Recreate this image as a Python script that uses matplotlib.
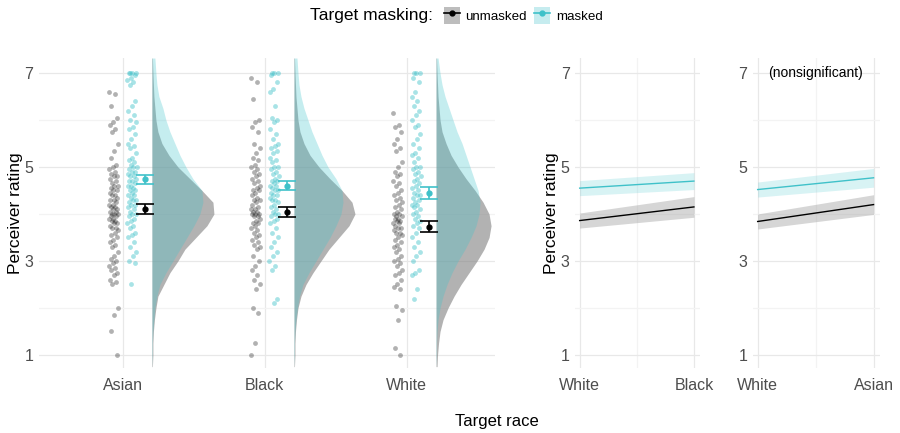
import numpy as np
import matplotlib
matplotlib.use("Agg")
import matplotlib.pyplot as plt
from matplotlib.patches import Patch
from matplotlib.lines import Line2D

plt.rcParams['font.family'] = ['Liberation Sans', 'DejaVu Sans']

# ---- data ----
races = ["Asian", "Black", "White"]

# participant-level ratings (jittered points)
asian_unmasked = [6.6, 6.55, 6.3, 6.05, 5.95, 5.9, 5.8, 5.75, 5.5, 5.35, 5.2, 5.05, 5.0, 4.95, 4.9,
                  4.85, 4.8, 4.8, 4.75, 4.7, 4.65, 4.6, 4.6, 4.55, 4.5, 4.5, 4.45, 4.4, 4.4, 4.35,
                  4.3, 4.3, 4.25, 4.2, 4.2, 4.15, 4.15, 4.1, 4.1, 4.05, 4.05, 4.0, 4.0, 4.0, 3.95,
                  3.95, 3.9, 3.9, 3.85, 3.85, 3.8, 3.8, 3.75, 3.7, 3.7, 3.65, 3.6, 3.55, 3.5, 3.45,
                  3.4, 3.35, 3.3, 3.2, 3.1, 3.05, 3.0, 2.95, 2.9, 2.85, 2.8, 2.75, 2.7, 2.6, 2.55,
                  2.5, 2.0, 1.85, 1.5, 1.0]
asian_masked = [7, 7, 7, 7, 6.95, 6.9, 6.85, 6.8, 6.75, 6.4, 6.3, 6.2, 6.1, 6.0, 5.95, 5.85, 5.8,
                5.7, 5.6, 5.5, 5.45, 5.4, 5.3, 5.2, 5.15, 5.1, 5.05, 5.0, 5.0, 4.95, 4.9, 4.9,
                4.85, 4.8, 4.8, 4.75, 4.7, 4.7, 4.65, 4.6, 4.6, 4.55, 4.5, 4.5, 4.45, 4.4, 4.4,
                4.35, 4.3, 4.3, 4.25, 4.2, 4.2, 4.15, 4.1, 4.05, 4.0, 4.0, 3.95, 3.9, 3.85, 3.8,
                3.75, 3.7, 3.6, 3.55, 3.5, 3.4, 3.3, 3.2, 3.1, 3.0, 2.95, 2.5]
black_unmasked = [6.9, 6.8, 6.45, 6.0, 5.95, 5.85, 5.75, 5.5, 5.4, 5.3, 5.2, 5.15, 5.05, 5.0, 4.95,
                  4.9, 4.85, 4.8, 4.75, 4.7, 4.65, 4.6, 4.55, 4.5, 4.5, 4.45, 4.4, 4.35, 4.3, 4.3,
                  4.25, 4.2, 4.15, 4.1, 4.1, 4.05, 4.05, 4.0, 4.0, 4.0, 3.95, 3.95, 3.9, 3.85, 3.8,
                  3.8, 3.75, 3.7, 3.65, 3.6, 3.55, 3.5, 3.45, 3.4, 3.35, 3.3, 3.25, 3.1, 3.0, 2.9,
                  2.8, 2.7, 2.6, 2.5, 2.4, 2.0, 1.9, 1.25, 1.0]
black_masked = [7, 7, 7, 6.95, 6.8, 6.65, 6.6, 6.3, 6.05, 6.0, 5.95, 5.8, 5.7, 5.6, 5.5, 5.45, 5.4,
                5.35, 5.3, 5.2, 5.15, 5.1, 5.0, 5.0, 4.95, 4.9, 4.85, 4.8, 4.75, 4.7, 4.7, 4.65,
                4.6, 4.6, 4.55, 4.5, 4.5, 4.45, 4.4, 4.4, 4.35, 4.3, 4.3, 4.25, 4.2, 4.15, 4.1,
                4.05, 4.0, 4.0, 3.95, 3.9, 3.85, 3.8, 3.7, 3.6, 3.5, 3.4, 3.3, 3.2, 3.1, 3.0, 2.9,
                2.8, 2.2, 2.1]
white_unmasked = [6.15, 5.9, 5.85, 5.75, 5.6, 5.5, 5.4, 5.35, 5.1, 5.0, 4.9, 4.85, 4.8, 4.7, 4.65,
                  4.6, 4.5, 4.45, 4.4, 4.35, 4.3, 4.25, 4.2, 4.15, 4.1, 4.05, 4.0, 4.0, 3.95, 3.95,
                  3.9, 3.9, 3.85, 3.85, 3.8, 3.8, 3.75, 3.7, 3.7, 3.65, 3.6, 3.6, 3.55, 3.5, 3.45,
                  3.4, 3.35, 3.3, 3.25, 3.2, 3.1, 3.05, 3.0, 2.95, 2.9, 2.8, 2.75, 2.7, 2.6, 2.5,
                  2.45, 2.4, 2.05, 1.95, 1.75, 1.15, 1.0]
white_masked = [7, 7, 7, 6.9, 6.8, 6.6, 6.5, 6.4, 6.3, 6.2, 6.1, 6.0, 5.9, 5.85, 5.7, 5.6, 5.5,
                5.4, 5.3, 5.25, 5.2, 5.1, 5.0, 5.0, 4.95, 4.9, 4.85, 4.8, 4.75, 4.7, 4.65, 4.6,
                4.55, 4.5, 4.45, 4.4, 4.4, 4.35, 4.3, 4.25, 4.2, 4.2, 4.15, 4.1, 4.05, 4.0, 3.95,
                3.9, 3.85, 3.8, 3.75, 3.7, 3.6, 3.5, 3.4, 3.3, 3.2, 3.1, 3.0, 2.8, 2.75, 2.7, 2.4,
                2.2]

# half-violin density profiles (relative density at each rating level)
dens_levels = [0.75, 1.0, 1.25, 1.5, 1.75, 2.0, 2.25, 2.5, 2.75, 3.0, 3.25, 3.5, 3.75, 4.0,
               4.25, 4.5, 4.75, 5.0, 5.25, 5.5, 5.75, 6.0, 6.25, 6.5, 6.75, 7.0, 7.32]
asian_unmasked_dens = [0.5, 1, 1, 1.5, 2.5, 4, 6, 12, 18, 26, 33, 44, 55, 62,
                       61, 50, 38, 26, 17, 10, 6, 4, 3, 2, 1.5, 1, 0.5]
asian_masked_dens = [0, 0.5, 0.5, 1, 2, 3, 5, 8, 14, 21, 28, 35, 42, 48,
                     51, 50, 41, 34, 28, 23, 18, 14, 11, 7, 5, 4, 3]
black_unmasked_dens = [0.5, 1, 1, 1.5, 2.5, 4, 7, 12, 19, 27, 35, 45, 55, 61,
                       58, 48, 36, 25, 16, 10, 6, 4, 3, 2, 1.5, 1, 0.5]
black_masked_dens = [0, 0.5, 0.5, 1, 2, 3.5, 5.5, 9, 15, 22, 29, 36, 42, 47,
                     49, 48, 42, 34, 28, 23, 18, 14, 10, 7, 5, 4, 3]
white_unmasked_dens = [1, 1.5, 2.5, 4, 7, 12, 18, 25, 33, 41, 48, 53, 55, 53,
                       47, 39, 30, 22, 15, 10, 6, 4, 3, 2, 1.5, 1, 0.5]
white_masked_dens = [0, 0.5, 0.5, 1, 2, 4, 7, 11, 16, 22, 29, 35, 40, 43,
                     44, 42, 38, 34, 30, 26, 21, 17, 13, 9, 6, 4, 2]

# means and standard errors (error bars)
mean_unmasked = [4.11, 4.04, 3.73]
se_unmasked = [0.10, 0.10, 0.12]
mean_masked = [4.74, 4.60, 4.45]
se_masked = [0.10, 0.10, 0.13]

# model-predicted lines (contrast panels): value at left / right level
wb_labels = ["White", "Black"]
wb_unmasked = [3.86, 4.15]
wb_unmasked_lo = [3.70, 3.93]
wb_unmasked_hi = [4.02, 4.37]
wb_masked = [4.55, 4.70]
wb_masked_lo = [4.39, 4.52]
wb_masked_hi = [4.71, 4.88]

wa_labels = ["White", "Asian"]
wa_unmasked = [3.84, 4.20]
wa_unmasked_lo = [3.68, 3.99]
wa_unmasked_hi = [4.00, 4.41]
wa_masked = [4.52, 4.77]
wa_masked_lo = [4.36, 4.57]
wa_masked_hi = [4.68, 4.97]

# ---- style ----
GREY_PT = "#222222"
CYAN = "#3fc1c9"
GRID_MAJ = "#e8e8e8"
GRID_MIN = "#f3f3f3"
TICK_C = "#4d4d4d"
YLIM = (0.72, 7.32)


def style_axis(ax):
    for s in ax.spines.values():
        s.set_visible(False)
    ax.tick_params(length=0, labelsize=11.5, labelcolor=TICK_C, pad=4)
    ax.set_ylim(*YLIM)
    ax.set_yticks([1, 3, 5, 7])
    ax.set_yticks([2, 4, 6], minor=True)
    ax.tick_params(which="minor", length=0)
    ax.grid(True, which="major", color=GRID_MAJ, lw=0.9)
    ax.grid(True, which="minor", axis="y", color=GRID_MIN, lw=0.9)
    ax.set_axisbelow(True)


fig = plt.figure(figsize=(9, 4.33), dpi=100)
ax1 = fig.add_axes([0.0433, 0.150, 0.5067, 0.716])
ax2 = fig.add_axes([0.639, 0.150, 0.139, 0.716])
ax3 = fig.add_axes([0.8367, 0.150, 0.141, 0.716])

# ---- raincloud panel ----
unmasked_sets = [asian_unmasked, black_unmasked, white_unmasked]
masked_sets = [asian_masked, black_masked, white_masked]
dens_u = [asian_unmasked_dens, black_unmasked_dens, white_unmasked_dens]
dens_m = [asian_masked_dens, black_masked_dens, white_masked_dens]
dscale = 1 / 142.0

for i in range(3):
    pos = i + 1
    base = pos + 0.205
    ax1.fill_betweenx(dens_levels, base, base + np.asarray(dens_u[i]) * dscale,
                      color="#808080", alpha=0.6, lw=0)
    ax1.fill_betweenx(dens_levels, base, base + np.asarray(dens_m[i]) * dscale,
                      color="#40c4cc", alpha=0.3, lw=0)

    u = np.asarray(unmasked_sets[i])
    m = np.asarray(masked_sets[i])
    ju = ((np.arange(len(u)) * 0.618034) % 1 - 0.5) * 0.065
    jm = ((np.arange(len(m)) * 0.618034 + 0.3) % 1 - 0.5) * 0.065
    ax1.scatter(pos - 0.065 + ju, u, s=12, color=GREY_PT, alpha=0.35, lw=0)
    ax1.scatter(pos + 0.065 + jm, m, s=12, color=CYAN, alpha=0.45, lw=0)

    ax1.errorbar(pos + 0.155, mean_unmasked[i], yerr=se_unmasked[i], fmt="o", ms=3.5,
                 color="black", capsize=6.5, elinewidth=1.2, capthick=1.2)
    ax1.errorbar(pos + 0.155, mean_masked[i], yerr=se_masked[i], fmt="o", ms=3.5,
                 color=CYAN, capsize=6.5, elinewidth=1.2, capthick=1.2)

style_axis(ax1)
ax1.set_xlim(0.41, 3.62)
ax1.set_xticks([1, 2, 3])
ax1.set_xticklabels(races)
ax1.tick_params(axis="x", pad=7)
ax1.set_ylabel("Perceiver rating", fontsize=12.5, labelpad=1)

# ---- contrast panels ----
for ax, labels, lines in [
    (ax2, wb_labels, (wb_unmasked, wb_unmasked_lo, wb_unmasked_hi, wb_masked, wb_masked_lo, wb_masked_hi)),
    (ax3, wa_labels, (wa_unmasked, wa_unmasked_lo, wa_unmasked_hi, wa_masked, wa_masked_lo, wa_masked_hi)),
]:
    un, un_lo, un_hi, ma, ma_lo, ma_hi = lines
    xs = [0, 1]
    ax.fill_between(xs, un_lo, un_hi, color="#999999", alpha=0.4, lw=0)
    ax.fill_between(xs, ma_lo, ma_hi, color="#40c4cc", alpha=0.2, lw=0)
    ax.plot(xs, un, color="black", lw=1.0)
    ax.plot(xs, ma, color=CYAN, lw=1.0)
    style_axis(ax)
    ax.set_xlim(-0.04, 1.055)
    ax.set_xticks([0, 1])
    ax.set_xticks([0.5], minor=True)
    ax.grid(True, which="minor", axis="x", color=GRID_MIN, lw=0.9)
    ax.set_xticklabels(labels)
    ax.tick_params(axis="x", pad=7)

ax2.set_ylabel("Perceiver rating", fontsize=12.5, labelpad=1)
ax3.text(0.5, 7.0, "(nonsignificant)", ha="center", va="center", fontsize=10, color="black")

# ---- shared x label and legend ----
fig.text(0.552, 0.01, "Target race", ha="center", va="bottom", fontsize=12)
fig.text(0.481, 0.965, "Target masking:", ha="right", va="center", fontsize=12.5)
h_un = (Patch(facecolor="#bdbdbd", edgecolor="none"),
        Line2D([], [], color="black", marker="o", ms=3.5, lw=1.2))
h_ma = (Patch(facecolor="#c6ecef", edgecolor="none"),
        Line2D([], [], color=CYAN, marker="o", ms=3.5, lw=1.2))
fig.legend([h_un, h_ma], ["unmasked", "masked"], loc="center left",
           bbox_to_anchor=(0.484, 0.965), ncol=2, frameon=False, fontsize=9.6,
           handlelength=1.2, handleheight=1.6, handletextpad=0.4, columnspacing=0.6,
           borderpad=0.1)

fig.savefig("out.png", dpi=100)
